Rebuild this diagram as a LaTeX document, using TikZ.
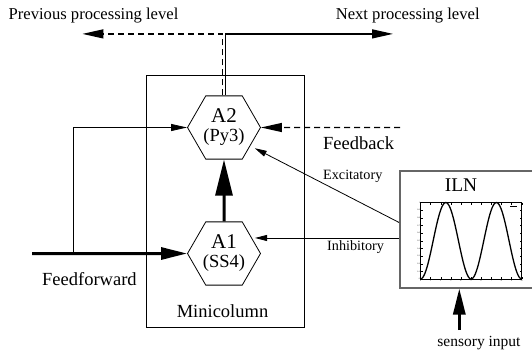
\documentclass[tikz,border=0pt]{standalone}
\usepackage{fontspec}
\setmainfont{Liberation Serif}
\usetikzlibrary{positioning,calc,shapes.geometric,arrows.meta}

\begin{document}
\begin{tikzpicture}[x=1pt,y=-1pt,
  hexa/.style={draw,line width=0.8pt,regular polygon,regular polygon sides=6,
               minimum size=73pt,inner sep=0pt,align=center,font=\fontsize{21}{21}\selectfont},
  wire/.style={line width=0.8pt},
  smallhead/.style={-{Triangle[length=12pt,width=6pt]}},
  fat/.style={line width=3pt,-{Triangle[length=26pt,width=12pt]}},
  lvl/.style={line width=1.3pt,-{Triangle[length=21pt,width=9pt]}},
  fbdash/.style={dash pattern=on 6pt off 4pt},
  biglbl/.style={font=\fontsize{18.5}{20}\selectfont,inner sep=0pt},
  toplbl/.style={font=\fontsize{16.6}{18}\selectfont,inner sep=0pt},
  synlbl/.style={font=\fontsize{14.2}{16}\selectfont,inner sep=0pt},
  ticklbl/.style={font=\fontsize{2}{2}\selectfont,inner sep=0.5pt}
]
  \path[use as bounding box] (0,0) rectangle (532,351);

  % minicolumn with its two cell populations
  \node[draw,line width=0.8pt,minimum width=157.6pt,minimum height=252.3pt] (mc) at (225.5,201.2) {};
  \node[biglbl,anchor=base] (mcname) at (222.5,317) {Minicolumn};
  \node[hexa] (A2) at (224,127.5) {A2\\[-2pt]{\fontsize{18.5}{18.5}\selectfont(Py3)}};
  \node[hexa] (A1) at (224,253.5) {A1\\[-2pt]{\fontsize{18.5}{18.5}\selectfont(SS4)}};
  \draw[line width=3pt,-{Triangle[length=36pt,width=17pt]}] (A1) -- (A2);

  % ILN box with its response curve
  \node[draw=black!60,line width=1.5pt,minimum width=134pt,minimum height=117pt,anchor=north west] (iln) at (399,170) {};
  \node[font=\fontsize{19.4}{20}\selectfont,inner sep=0pt,anchor=base] (ilnname) at (461,191) {ILN};
  \draw[line width=0.6pt] (420.5,202.5) rectangle (521.7,279);
  \foreach \i/\t in {0/0,1/0.1,2/0.2,3/0.3,4/0.4,5/0.5,6/0.6,7/0.7,8/0.8,9/0.9,10/1} {
    \draw[line width=0.3pt] (420.5,279-7.65*\i) -- ++(2,0) (521.7,279-7.65*\i) -- ++(-2,0);
    \draw[line width=0.3pt] (420.5+10.12*\i,279) -- ++(0,-2) (420.5+10.12*\i,202.5) -- ++(0,2);
    \node[ticklbl,anchor=east] at (420.5,279-7.65*\i) {\t};
    \node[ticklbl,anchor=north] at (420.5+10.12*\i,279) {\i};
  }
  \draw[line width=0.4pt] (510,206) -- (517,206);
  \draw[line width=1.3pt] plot[domain=0:1,samples=90,smooth]
    ({420.5+101.2*\x},{279-76.5*(1-cos(720*\x))/2});

  % inputs and outputs
  \coordinate (ffin) at (32,253.5);
  \coordinate (ffsplit) at (73.3,253.5);
  \coordinate (prevlvl) at (82.4,33.9);
  \coordinate (nextlvl) at (393,33.9);
  \coordinate (fb) at (400,127.5);
  \coordinate (sens) at (459.3,330);

  \draw[fat] (ffin) -- (A1.west);
  \draw[wire,-{Triangle[length=16pt,width=7pt]}] (ffsplit) |- (A2.west);
  \draw[lvl] ([xshift=1.4pt]A2.north) |- (nextlvl);
  \draw[lvl,fbdash] ([xshift=-1.4pt]A2.north) |- (prevlvl);
  \draw[lvl,fbdash] (fb) -- (A2.east);
  \draw[wire,smallhead,shorten >=5pt] ([yshift=6.8pt]iln.west) -- (A2.-35);
  \draw[wire,smallhead,shorten >=3pt] (A1.29 -| iln.west) -- (A1.29);
  \draw[fat] (sens) -- (sens |- iln.south);

  \node[toplbl,anchor=base west] (prevname) at (8.5,19) {Previous processing level};
  \node[toplbl,anchor=base west] (nextname) at (335.6,19) {Next processing level};
  \node[biglbl,anchor=base west] (fbname) at (323,149) {Feedback};
  \node[synlbl,anchor=base west] (excname) at (323,179) {Excitatory};
  \node[synlbl,anchor=base west] (inhname) at (327,250) {Inhibitory};
  \node[biglbl,anchor=base west] (ffname) at (42,285) {Feedforward};
  \node[font=\fontsize{15.5}{17}\selectfont,inner sep=0pt,anchor=base] (sensname) at (479,346) {sensory input};
\end{tikzpicture}
\end{document}
